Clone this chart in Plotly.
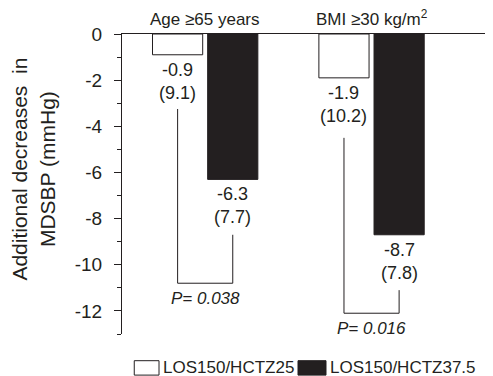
import plotly.graph_objects as go

# ---- data ----
groups = ["Age ≥65 years", "BMI ≥30 kg/m<sup>2</sup>"]
series_names = ["LOS150/HCTZ25", "LOS150/HCTZ37.5"]
means_25 = [-0.9, -1.9]
sd_25 = [9.1, 10.2]
means_375 = [-6.3, -8.7]
sd_375 = [7.7, 7.8]
p_values = ["0.038", "0.016"]
bracket_left_top = [-3.25, -4.5]
bracket_right_top = [-8.7, -11.1]
bracket_bottom = [-10.8, -12.1]
y_ticks = [0, -2, -4, -6, -8, -10, -12]
y_title = "Additional decreases  in<br>MDSBP (mmHg)"

FONT = "Liberation Sans, Arial, sans-serif"
BLACK = "#231f20"

xpos = list(range(len(groups)))
bargap = 0.337
bargroupgap = 0.09
slot = (1 - bargap) / 2  # width of one bar slot in x units

fig = go.Figure()
fig.add_trace(go.Bar(x=xpos, y=means_25, name=series_names[0],
                     marker=dict(color="white", line=dict(color=BLACK, width=1)),
                     showlegend=False))
fig.add_trace(go.Bar(x=xpos, y=means_375, name=series_names[1],
                     marker=dict(color=BLACK, line=dict(color=BLACK, width=1)),
                     showlegend=False))

annotations = []
shapes = []
for i in xpos:
    cl = i - slot / 2
    cr = i + slot / 2
    annotations.append(dict(x=cl, y=means_25[i], xref="x", yref="y",
                            text=f"{means_25[i]}<br>({sd_25[i]})", showarrow=False,
                            yanchor="top", yshift=-3, font=dict(size=18, color=BLACK)))
    annotations.append(dict(x=cr, y=means_375[i], xref="x", yref="y",
                            text=f"{means_375[i]}<br>({sd_375[i]})", showarrow=False,
                            yanchor="top", yshift=-3, font=dict(size=18, color=BLACK)))
    # group title
    annotations.append(dict(x=i, y=1, xref="x", yref="paper", text=groups[i],
                            showarrow=False, yanchor="bottom", yshift=3,
                            font=dict(size=17, color=BLACK)))
    # bracket
    shapes.append(dict(type="path", xref="x", yref="y",
                       path=f"M {cl} {bracket_left_top[i]} L {cl} {bracket_bottom[i]} "
                            f"L {cr} {bracket_bottom[i]} L {cr} {bracket_right_top[i]}",
                       line=dict(color=BLACK, width=1)))
    annotations.append(dict(x=i, y=bracket_bottom[i], xref="x", yref="y",
                            text=f"<i>P= {p_values[i]}</i>", showarrow=False,
                            yanchor="top", yshift=-4, font=dict(size=17, color=BLACK)))

# y-axis title (placed as rotated annotation to match the reference position)
annotations.append(dict(x=0, y=0.548, xref="paper", yref="paper", text=y_title,
                        showarrow=False, textangle=-90, xanchor="center", yanchor="middle",
                        xshift=-89, font=dict(size=21, color=BLACK)))

# custom legend
legend_boxes = [(0.0335, 0.1011), (0.4809, 0.5574)]
for k, name in enumerate(series_names):
    x0, x1 = legend_boxes[k]
    shapes.append(dict(type="rect", xref="paper", yref="paper", x0=x0, x1=x1,
                       y0=-0.137, y1=-0.089,
                       fillcolor="white" if k == 0 else BLACK,
                       line=dict(color=BLACK, width=1)))
    annotations.append(dict(x=x1, y=-0.113, xref="paper", yref="paper", text=name,
                            showarrow=False, xanchor="left", yanchor="middle", xshift=2,
                            font=dict(size=17, color=BLACK)))

# page body has an 8px margin, so the figure is offset by 8px right and down
fig.update_layout(
    width=485, height=368,
    margin=dict(l=114, r=5, t=26, b=42),
    paper_bgcolor="white", plot_bgcolor="white",
    barmode="group", bargap=bargap, bargroupgap=bargroupgap,
    font=dict(family=FONT, color=BLACK),
    showlegend=False,
    annotations=annotations, shapes=shapes,
    xaxis=dict(range=[-0.5, 1.7], showticklabels=False, ticks="", showgrid=False,
               zeroline=False, showline=True, side="top", linecolor=BLACK, linewidth=1,
               automargin=False),
    yaxis=dict(range=[-13, 0], tickvals=y_ticks, ticktext=[str(t) for t in y_ticks],
               ticks="outside", ticklen=7, tickcolor=BLACK, tickwidth=1,
               ticklabelstandoff=8,
               minor=dict(dtick=1, ticks="outside", ticklen=4, tickcolor=BLACK, tickwidth=1,
                          showgrid=False),
               showgrid=False, zeroline=False, showline=True, linecolor=BLACK, linewidth=1,
               tickfont=dict(size=19, color=BLACK), automargin=False),
)

fig.write_html("out.html")
